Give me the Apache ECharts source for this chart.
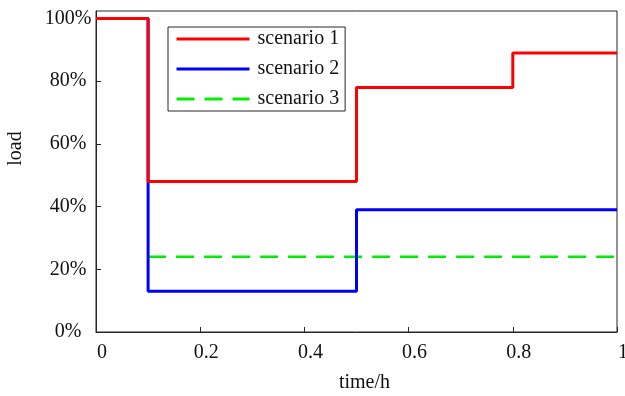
<!DOCTYPE html>
<html>
<head>
<meta charset="utf-8">
<script src="https://cdn.jsdelivr.net/npm/echarts@6/dist/echarts.min.js"></script>
<style>html,body{margin:0;padding:0;background:#fff}#c{width:625px;height:396px}</style>
</head>
<body>
<div id="c"></div>
<script>
var time = [0, 0.1, 0.5, 0.8, 1];
var scenario1 = [1, 0.48, 0.78, 0.89, 0.89];
var scenario2 = [1, 0.13, 0.39, 0.39, 0.39];
var scenario3 = [null, 0.24, 0.24, 0.24, 0.24];
var seriesNames = ['scenario 1', 'scenario 2', 'scenario 3'];
var xTicks = [0, 0.2, 0.4, 0.6, 0.8, 1];
var yTicks = [0, 0.2, 0.4, 0.6, 0.8, 1];

function pairs(ys) { return time.map(function (t, i) { return [t, ys[i]]; }); }

var font = 'Liberation Serif';
var axisCol = '#262626';
var chart = echarts.init(document.getElementById('c'), null, {renderer: 'canvas'});
chart.setOption({
  animation: false,
  backgroundColor: '#fff',
  grid: {left: 96, right: 8, top: 11, bottom: 64, show: true, borderColor: axisCol, borderWidth: 1,
    containLabel: false, outerBoundsMode: 'none'},
  legend: {
    orient: 'vertical', left: 168, top: 27,
    itemWidth: 73, itemHeight: 20, itemGap: 10,
    padding: [2, 6, 2, 7],
    borderColor: axisCol, borderWidth: 1, backgroundColor: '#fff',
    itemStyle: {opacity: 0},
    lineStyle: {width: 3},
    textStyle: {fontFamily: font, fontSize: 20, color: '#111', padding: [0, 0, 0, 3]},
    data: seriesNames
  },
  xAxis: {
    type: 'value', min: 0, max: 1, interval: 0.2,
    name: 'time/h', nameLocation: 'middle', nameGap: 41,
    nameTextStyle: {fontFamily: font, fontSize: 20, color: '#111', padding: [0, 0, 0, 16]},
    axisLine: {show: true, lineStyle: {color: axisCol, width: 1}},
    axisTick: {show: true, inside: true, length: 5, lineStyle: {color: axisCol}},
    splitLine: {show: false},
    axisLabel: {fontFamily: font, fontSize: 20, color: '#111', margin: 11, padding: [0, 0, 0, 12],
      formatter: function (v) { var r = Math.round(v * 10) / 10; return (r === 0 || r === 1) ? String(r) : r.toFixed(1); }}
  },
  yAxis: {
    type: 'value', min: 0, max: 1.024, interval: 0.2,
    name: 'load', nameLocation: 'middle', nameGap: 70, nameRotate: 90,
    nameTextStyle: {fontFamily: font, fontSize: 20, color: '#111', padding: [0, 0, 0, 46]},
    axisLine: {show: true, lineStyle: {color: axisCol, width: 1}},
    axisTick: {show: true, inside: true, length: 5, lineStyle: {color: axisCol}},
    splitLine: {show: false},
    axisLabel: {fontFamily: font, fontSize: 20, color: '#111', margin: 28, align: 'center',
      formatter: function (v) { return Math.round(v * 100) + '%'; }}
  },
  series: [
    {name: seriesNames[0], type: 'line', step: 'end', data: pairs(scenario1), symbol: 'none', z: 5,
      lineStyle: {color: '#ff0000', width: 3}, itemStyle: {color: '#ff0000'}},
    {name: seriesNames[1], type: 'line', step: 'end', data: pairs(scenario2), symbol: 'none', z: 4,
      lineStyle: {color: '#0000ff', width: 3}, itemStyle: {color: '#0000ff'}},
    {name: seriesNames[2], type: 'line', step: 'end', data: pairs(scenario3), symbol: 'none', z: 3,
      lineStyle: {color: '#00ee00', width: 2.5, type: [18, 10]}, itemStyle: {color: '#00ee00'}}
  ]
});
</script>
</body>
</html>
